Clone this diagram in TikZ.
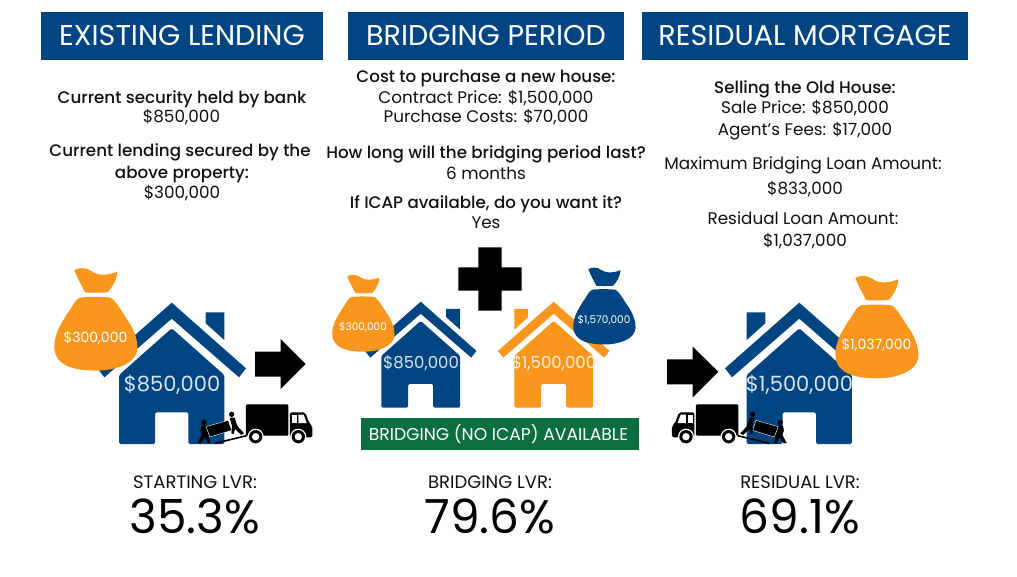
\documentclass[tikz,border=0pt]{standalone}
\usepackage{fontspec}
\setmainfont{Poppins}
\newfontfamily\medfont{Poppins Medium}
\definecolor{navy}{HTML}{004581}
\definecolor{gold}{HTML}{F8961E}
\definecolor{leaf}{HTML}{0B6E3F}
\definecolor{ink}{HTML}{111111}
\newcommand{\fs}[1]{\fontsize{#1}{#1}\selectfont}
\tikzset{
  header/.style={fill=navy,text=white,inner sep=0pt,anchor=center},
  body/.style={text=ink,inner sep=0pt,anchor=center,yshift=-1.2pt,font=\fs{16.8}},
  strong/.style={text=ink,inner sep=0pt,anchor=center,yshift=-1.5pt,font=\medfont\fs{16.7}},
  small/.style={text=ink,inner sep=0pt,anchor=center,font=\fs{18}},
  big/.style={text=black,inner sep=0pt,anchor=center,font=\fs{47}},
  onshape/.style={text=white,inner sep=0pt,anchor=center},
}
% #1 colour, #2 apex x, #3 apex y, #4 scale, #5 mirror sign
\newcommand{\house}[5]{%
\begin{scope}[shift={(#2,#3)},xscale=#5*#4,yscale=#4]
 \fill[#1] (0,0) -- (74.3,65.6) -- (67.3,74.6) -- (0,16) -- (-67.3,74.6) -- (-74.3,65.6) -- cycle;
 \fill[#1] (34,9.6) -- (52.6,9.6) -- (52.6,37.3) -- (34,20.6) -- cycle;
 \fill[#1,rounded corners=1.5pt] (0,25.6) -- (52.6,72.3) -- (52.6,141.3) -- (16.7,141.3) -- (16.7,109.6) -- (-16.7,109.6) -- (-16.7,141.3) -- (-52.6,141.3) -- (-52.6,72.3) -- cycle;
\end{scope}}
% #1 colour, #2 centre x, #3 top y, #4 scale
\newcommand{\moneybag}[4]{%
\begin{scope}[shift={(#2,#3)},scale=#4]
 \fill[#1] (-21.3,1.7) .. controls (-15,-1) and (-10,-1) .. (-4,3)
   .. controls (3,8) and (12,7) .. (21.7,3.3)
   .. controls (21,12) and (16,20) .. (11.7,24)
   .. controls (5,24.6) and (-5,24.6) .. (-10.7,24)
   .. controls (-14,17) and (-19,9) .. (-21.3,1.7) -- cycle;
 \fill[#1] (-15.7,29.3) .. controls (-8,28.4) and (6,28.4) .. (14.3,29.3)
   .. controls (20,31) and (26,44) .. (34,55)
   .. controls (39,64) and (42,72) .. (41.7,80)
   .. controls (41,96) and (18,102.3) .. (1,102.3)
   .. controls (-16,102.3) and (-40,100) .. (-41.3,80)
   .. controls (-42,64) and (-32,52) .. (-29,46)
   .. controls (-24,40) and (-21,31) .. (-15.7,29.3) -- cycle;
\end{scope}}
% zoom-coordinate truck and movers: #1 x shift, #2 x scale sign
\newcommand{\truckscene}[2]{%
\begin{scope}[shift={(#1,260)},xscale=#2/3,yscale=1/3]
 \fill[black,rounded corners=1pt] (648,433) rectangle (775,527);
 \fill[black,rounded corners=2pt] (780,532) -- (780,457) -- (826,457) -- (838,490) -- (847,497) -- (847,532) -- cycle;
 \fill[white] (785,464) -- (800,464) -- (800,489) -- (785,489) -- cycle;
 \fill[white] (805,464) -- (821,464) -- (830,489) -- (805,489) -- cycle;
 \foreach \wx in {677,805} {
  \fill[white] (\wx,530) circle[radius=24];
  \fill[black] (\wx,530) circle[radius=20];
  \fill[white] (\wx,530) circle[radius=11];
 }
 \draw[black,line width=1.6pt] (555,550) -- (650,527);
 \fill[black] (522,487) circle[radius=8];
 \fill[black] (514,497) -- (530,496) -- (536,525) -- (541,550) -- (533,550) -- (525,532) -- (512,550) -- (503,549) -- (516,524) -- (511,512) -- cycle;
 \fill[black,draw=white,line width=0.4pt] (528,500) -- (595,481) -- (605,511) -- (540,531) -- cycle;
 \fill[black] (605,463) circle[radius=8];
 \fill[black] (599,473) -- (614,473) -- (622,498) -- (642,520) -- (634,525) -- (615,507) -- (611,522) -- (604,520) -- (606,498) -- cycle;
\end{scope}}
\begin{document}
\begin{tikzpicture}[x=1pt,y=-1pt]
\useasboundingbox (0,0) rectangle (1017,576);
\fill[white] (0,0) rectangle (1017,576);

% headers
\node[header,minimum width=282pt,minimum height=48pt,font=\fs{28.6}] (h1) at (182,36) {\raisebox{1pt}{EXISTING LENDING}};
\node[header,minimum width=276pt,minimum height=48pt,font=\fs{28.6}] (h2) at (486,36) {\raisebox{1pt}{BRIDGING PERIOD}};
\node[header,minimum width=326pt,minimum height=48pt,font=\fs{28.6}] (h3) at (805,36) {\raisebox{1pt}{RESIDUAL MORTGAGE}};

% column 1
\node[strong] (a1) at (182,97.5) {Current security held by bank};
\node[body] (a2) at (181.5,115.5) {\$850,000};
\node[strong] (a3) at (180,150.5) {Current lending secured by the};
\node[strong] (a4) at (182,173) {above property:};
\node[body] (a5) at (182,192) {\$300,000};

% column 2
\node[strong] (b1) at (486,77) {Cost to purchase a new house:};
\node[body] (b2) at (486,96.5) {Contract Price: \$1,500,000};
\node[body] (b3) at (486,115.5) {Purchase Costs: \$70,000};
\node[strong] (b4) at (486,152.5) {How long will the bridging period last?};
\node[body] (b5) at (486,172.5) {6 months};
\node[strong] (b6) at (486,202.5) {If ICAP available, do you want it?};
\node[body] (b7) at (486,221.5) {Yes};

% column 3
\node[strong] (c1) at (805,87.5) {Selling the Old House:};
\node[body] (c2) at (805,106.5) {Sale Price: \$850,000};
\node[body] (c3) at (805,129.5) {Agent\char"27 s Fees: \$17,000};
\node[body] (c4) at (803,164.5) {Maximum Bridging Loan Amount:};
\node[body] (c5) at (805,187.5) {\$833,000};
\node[body] (c6) at (803,216.5) {Residual Loan Amount:};
\node[body] (c7) at (805,239.5) {\$1,037,000};

% left group
\house{navy}{171.7}{302.7}{1}{1}
\moneybag{gold}{95.7}{268.3}{1}
\fill[black] (255,351.7) -- (280.7,351.7) -- (280.7,339) -- (305.7,364) -- (280.7,389) -- (280.7,376.7) -- (255,376.7) -- cycle;
\truckscene{30}{1}
\node[onshape,font=\fs{14}] (l1) at (95.5,337.5) {\$300,000};
\node[onshape,font=\fs{21},text=white!85!navy] (l2) at (172,385) {\$850,000};

% middle group
\house{navy}{420.7}{301.7}{0.75}{1}
\house{gold}{553.7}{301.7}{0.75}{-1}
\moneybag{gold}{363.3}{275}{0.75}
\moneybag{navy}{604.3}{267.7}{0.75}
\fill[black] (478.3,247.3) -- (501.7,247.3) -- (501.7,267.3) -- (521.7,267.3) -- (521.7,290.7) -- (501.7,290.7) -- (501.7,310.7) -- (478.3,310.7) -- (478.3,290.7) -- (458.3,290.7) -- (458.3,267.3) -- (478.3,267.3) -- cycle;
\node[onshape,font=\fs{10.5}] (m1) at (363,327.5) {\$300,000};
\node[onshape,font=\fs{10.5}] (m2) at (604,320) {\$1,570,000};
\node[onshape,font=\fs{16.5},text=white!85!navy] (m3) at (421,363.5) {\$850,000};
\node[onshape,font=\fs{16.5},text=white!85!gold] (m4) at (554,363.5) {\$1,500,000};
\node[fill=leaf,text=white,inner sep=0pt,minimum width=278pt,minimum height=32pt,font=\fs{17.2}] (g) at (500,434) {\hspace{-3pt}BRIDGING (NO ICAP) AVAILABLE};

% right group
\house{navy}{799.3}{302.7}{1}{-1}
\moneybag{gold}{876.7}{276}{1}
\fill[black] (667,359.3) -- (692.7,359.3) -- (692.7,346.7) -- (718.3,371.7) -- (692.7,397.3) -- (692.7,384.3) -- (667,384.3) -- cycle;
\truckscene{954.3}{-1}
\node[onshape,font=\fs{14}] (r1) at (876.5,345) {\$1,037,000};
\node[onshape,font=\fs{21},text=white!85!navy] (r2) at (799.5,385) {\$1,500,000};

% LVR
\node[small] (s1) at (195,482) {STARTING LVR:};
\node[big] (s2) at (195,516.5) {35.3\%};
\node[small] (s3) at (490,482) {BRIDGING LVR:};
\node[big] (s4) at (490,516.5) {79.6\%};
\node[small] (s5) at (800,482) {RESIDUAL LVR:};
\node[big] (s6) at (800,516.5) {69.1\%};
\end{tikzpicture}
\end{document}
